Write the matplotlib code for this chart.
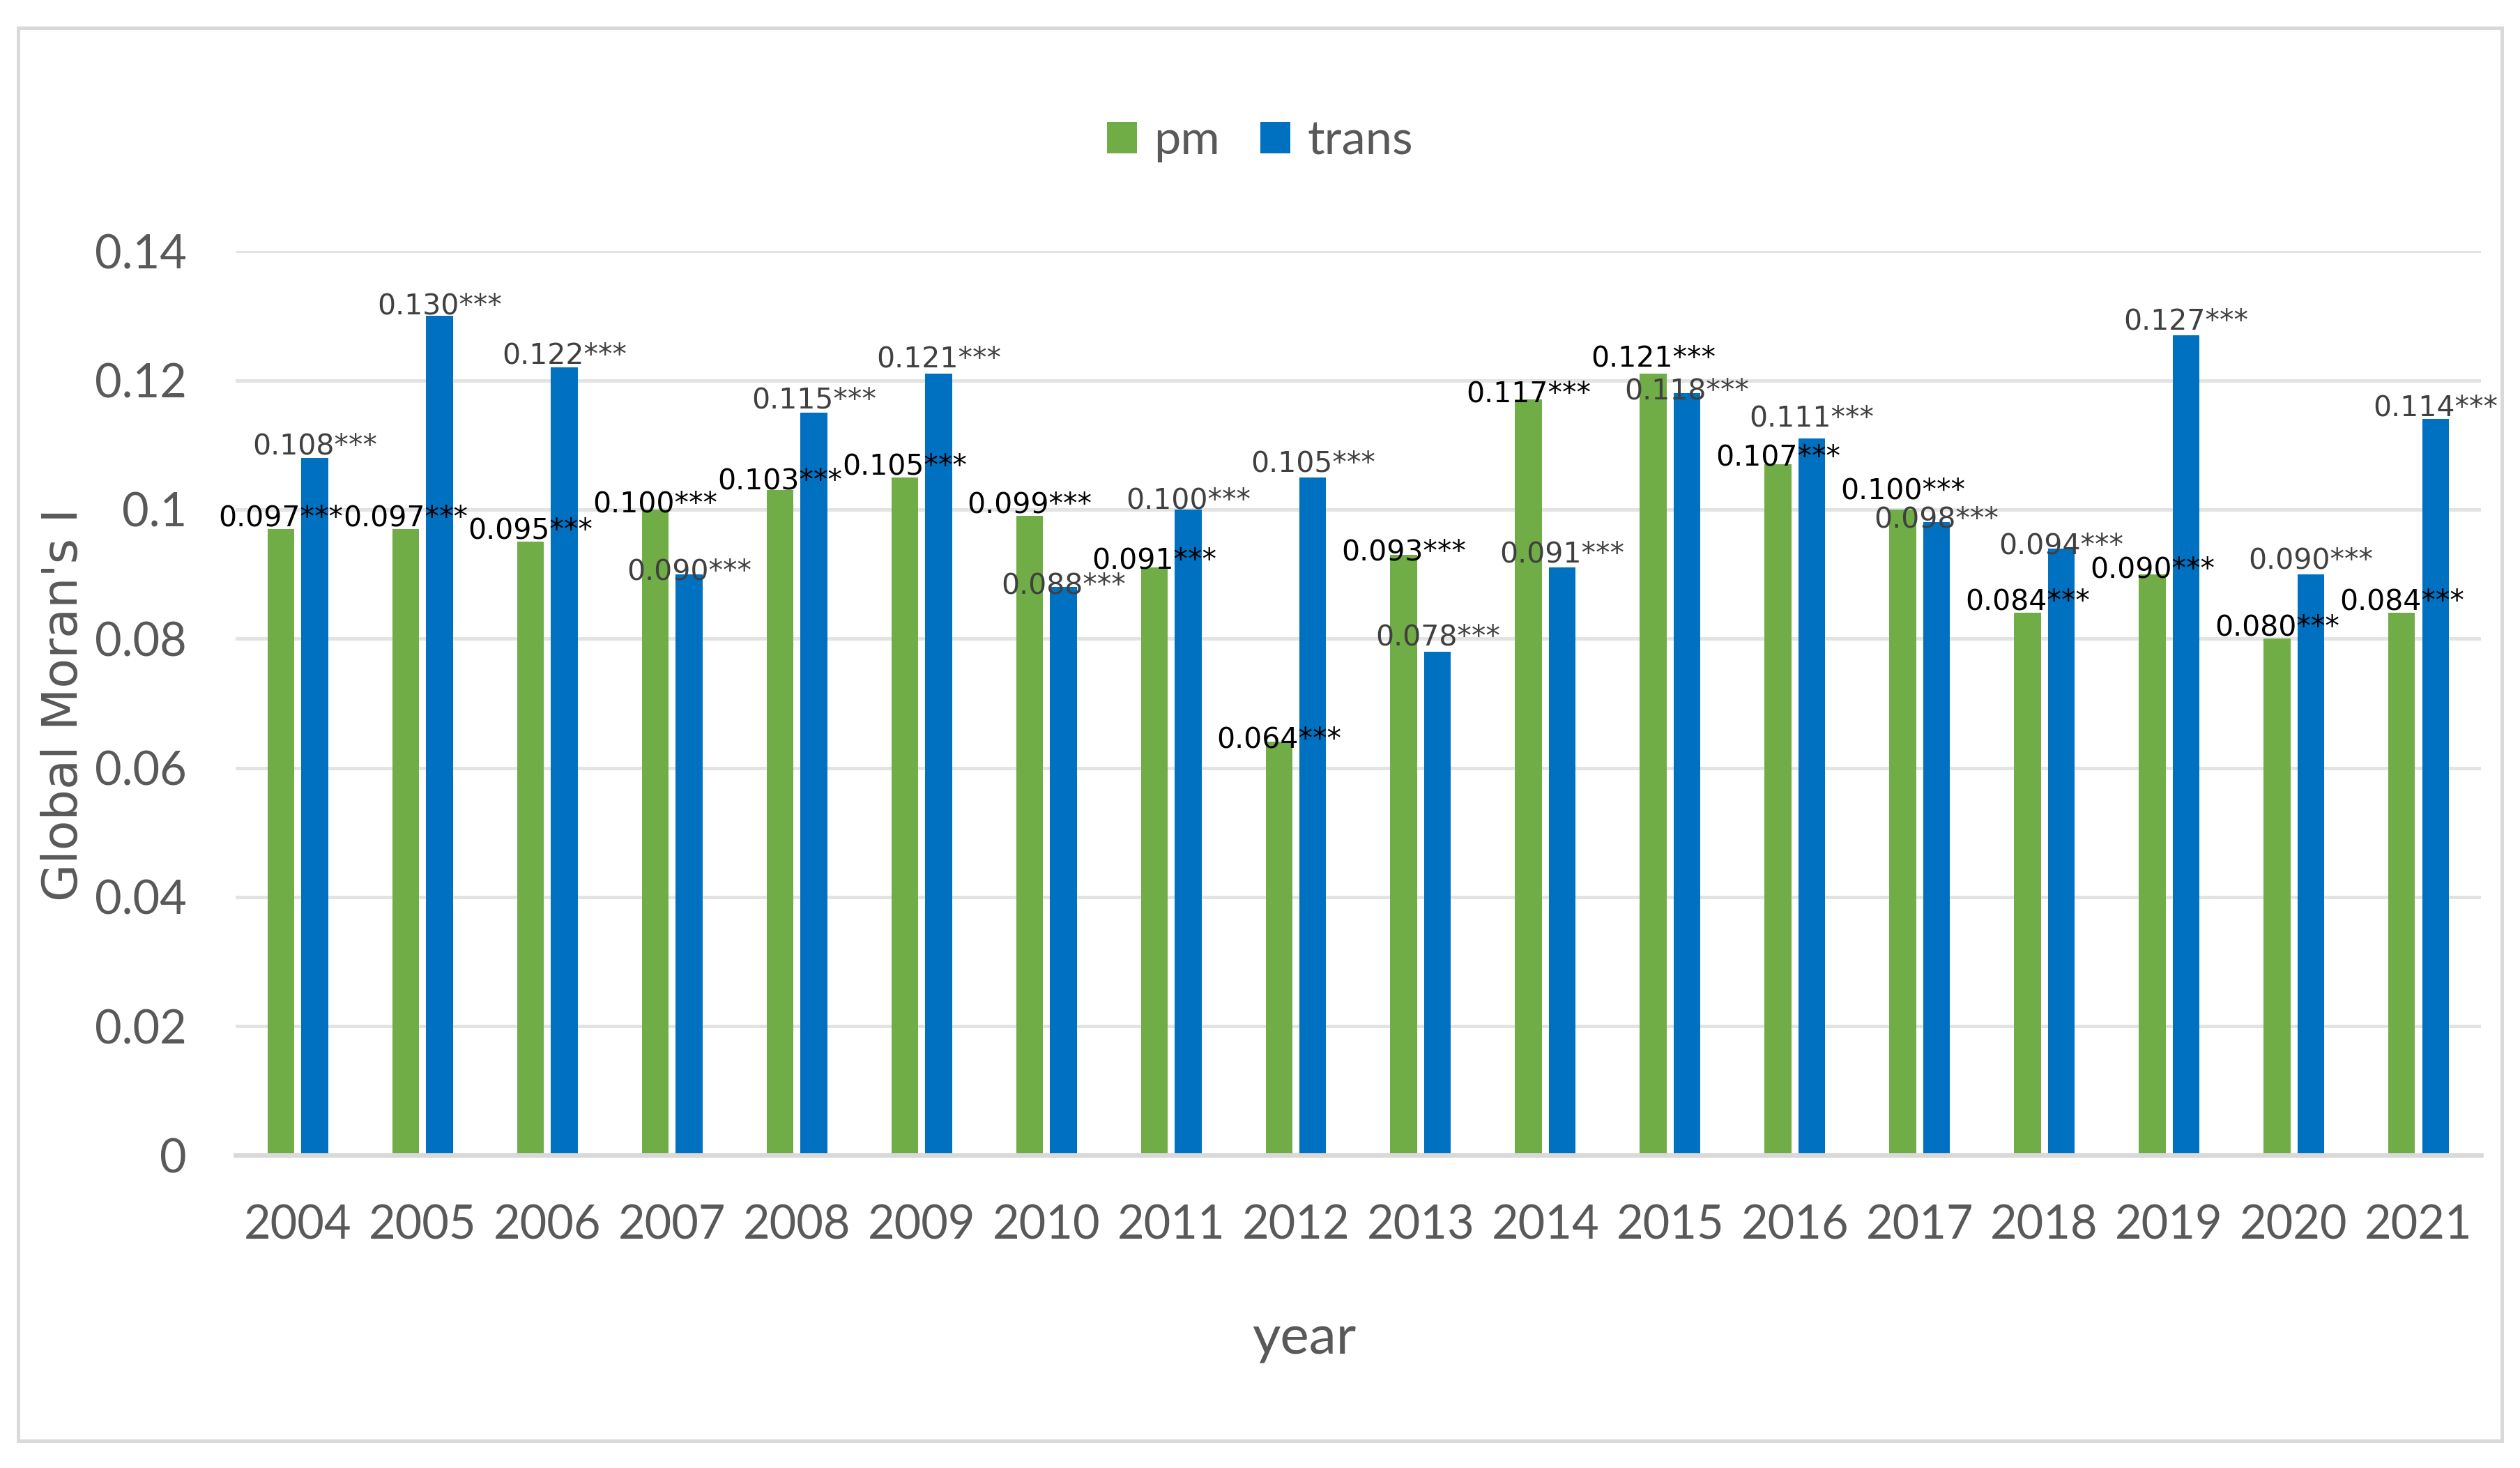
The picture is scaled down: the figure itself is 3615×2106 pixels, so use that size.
import numpy as np
import matplotlib
matplotlib.use("Agg")
import matplotlib.pyplot as plt
from matplotlib.patches import Rectangle

# chart values
years = ["2004", "2005", "2006", "2007", "2008", "2009", "2010", "2011", "2012",
         "2013", "2014", "2015", "2016", "2017", "2018", "2019", "2020", "2021"]
pm = [0.097, 0.097, 0.095, 0.100, 0.103, 0.105, 0.099, 0.091, 0.064,
      0.093, 0.117, 0.121, 0.107, 0.100, 0.084, 0.090, 0.080, 0.084]
trans = [0.108, 0.130, 0.122, 0.090, 0.115, 0.121, 0.088, 0.100, 0.105,
         0.078, 0.091, 0.118, 0.111, 0.098, 0.094, 0.127, 0.090, 0.114]
stars = "***"

# label placement tweaks (points above bar top, baseline)
pm_gap = [1.2, 1.2, 1.5, -1.2, 0.4, 1.1, 1.4, -0.4, -2.4,
          -2.4, -0.9, 3.3, -0.4, 4.5, 1.5, -1.5, 1.5, 1.5]
trans_gap = [1.5, 0.8, 1.8, -2.4, 1.8, 3.0, -2.7, 0.3, 2.4,
             2.7, 2.3, -2.4, 5.4, -2.1, -2.3, 2.4, 2.4, 1.4]

GREEN = "#70AD47"
BLUE = "#0070C0"
GREY_TXT = "#595959"

plt.rcParams["font.family"] = ["Lato", "DejaVu Sans"]

fig = plt.figure(figsize=(3615 / 240, 2106 / 240), dpi=240)
ax = fig.add_axes([0.0935, 0.2130, 0.891, 0.6159])

x = np.arange(len(years))
w = 0.215
off = 0.1355
b1 = ax.bar(x - off, pm, w, color=GREEN, label="pm", zorder=3)
b2 = ax.bar(x + off, trans, w, color=BLUE, label="trans", zorder=3)

for xi, v, g in zip(x, pm, pm_gap):
    ax.annotate(f"{v:.3f}{stars}", xy=(xi - off, v), xytext=(0, g),
                textcoords="offset points", ha="center", va="baseline",
                fontsize=12.3, color="black", family="DejaVu Sans", zorder=5)
for xi, v, g in zip(x, trans, trans_gap):
    ax.annotate(f"{v:.3f}{stars}", xy=(xi + off, v), xytext=(0, g),
                textcoords="offset points", ha="center", va="baseline",
                fontsize=12.3, color="#404040", family="DejaVu Sans", zorder=5)

ax.set_xlim(-0.5, len(years) - 0.5)
ax.set_ylim(0, 0.14)
ax.set_yticks([0, 0.02, 0.04, 0.06, 0.08, 0.1, 0.12, 0.14])
ax.set_yticklabels(["0", "0.02", "0.04", "0.06", "0.08", "0.1", "0.12", "0.14"])
ax.set_xticks(x)
ax.set_xticklabels(years)
ax.tick_params(axis="y", length=0, pad=21, labelsize=20, labelcolor=GREY_TXT)
ax.tick_params(axis="x", length=0, pad=21, labelsize=20, labelcolor=GREY_TXT)

ax.grid(axis="y", color="#E3E3E3", linewidth=1.5, zorder=0)
ax.set_axisbelow(True)
for side in ["left", "right", "top"]:
    ax.spines[side].set_visible(False)
ax.spines["bottom"].set_color("#D9D9D9")
ax.spines["bottom"].set_linewidth(2)
ax.spines["bottom"].set_zorder(4)

fig.text(0.5176, 0.0774, "year", ha="center", va="baseline",
         fontsize=23.5, color=GREY_TXT)
fig.text(0.0252, 0.520, "Global Moran's I", rotation=90, ha="center",
         va="center", fontsize=21, color=GREY_TXT, family="DejaVu Sans")

fig.legend(handles=[b1, b2], labels=["pm", "trans"], loc="center",
           bbox_to_anchor=(0.5, 0.904), ncol=2, frameon=False,
           fontsize=20.5, labelcolor=GREY_TXT, handlelength=0.63,
           handleheight=0.63, handletextpad=0.35, columnspacing=0.85)

fig.patches.append(Rectangle((26 / 3615, 1 - 2067 / 2106),
                             (3589 - 26) / 3615, (2067 - 40) / 2106,
                             transform=fig.transFigure, fill=False,
                             edgecolor="#D9D9D9", linewidth=1.5))

fig.savefig("out.png", dpi=240, facecolor="white")
